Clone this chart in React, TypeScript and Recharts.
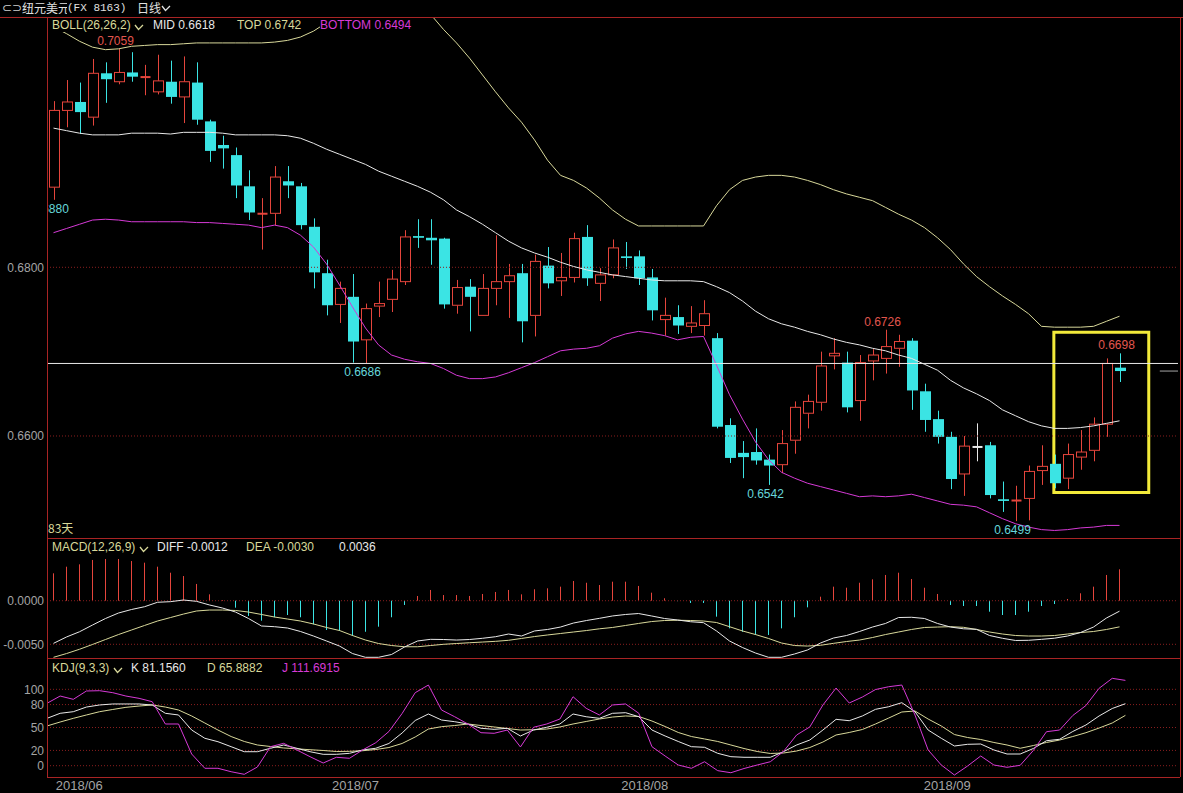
import React from 'react';
import { ComposedChart, Bar, Line, XAxis, YAxis, ReferenceLine, ReferenceArea, ReferenceDot } from 'recharts';

// ---------- data ----------
const opens = [0.6895,0.6986,0.6996,0.6978,0.7030,0.7020,0.7031,0.7025,0.7008,0.7020,
0.7002,0.7019,0.6973,0.6945,0.6933,0.6896,0.6863,0.6864,0.6902,0.6896,
0.6848,0.6793,0.6756,0.6765,0.6714,0.6754,0.6762,0.6783,0.6837,0.6835,
0.6834,0.6755,0.6777,0.6743,0.6775,0.6783,0.6793,0.6743,0.6802,0.6784,
0.6788,0.6836,0.6781,0.6791,0.6813,0.6813,0.6788,0.6738,0.6741,0.6730,
0.6731,0.6716,0.6613,0.6580,0.6581,0.6572,0.6566,0.6595,0.6627,0.6640,
0.6695,0.6687,0.6642,0.6689,0.6692,0.6704,0.6713,0.6653,0.6620,0.6599,
0.6555,0.6587,0.6589,0.6525,0.6523,0.6526,0.6559,0.6567,0.6550,0.6575,
0.6583,0.6614,0.6681];
const highs = [0.6997,0.7022,0.7019,0.7047,0.7043,0.7059,0.7055,0.7040,0.7052,0.7045,
0.7050,0.7043,0.6975,0.6956,0.6942,0.6915,0.6882,0.6920,0.6920,0.6900,
0.6858,0.6809,0.6783,0.6792,0.6757,0.6783,0.6797,0.6844,0.6857,0.6857,
0.6835,0.6785,0.6786,0.6792,0.6838,0.6804,0.6804,0.6815,0.6824,0.6817,
0.6841,0.6850,0.6799,0.6833,0.6830,0.6820,0.6798,0.6764,0.6755,0.6754,
0.6761,0.6722,0.6621,0.6594,0.6609,0.6578,0.6607,0.6641,0.6649,0.6700,
0.6716,0.6700,0.6696,0.6703,0.6726,0.6720,0.6716,0.6662,0.6630,0.6605,
0.6600,0.6615,0.6593,0.6546,0.6541,0.6565,0.6589,0.6578,0.6591,0.6607,
0.6622,0.6692,0.6698];
const lows = [0.6880,0.6966,0.6958,0.6968,0.6995,0.7017,0.7020,0.7004,0.7005,0.6994,
0.6971,0.6969,0.6925,0.6917,0.6882,0.6856,0.6821,0.6850,0.6882,0.6845,
0.6775,0.6743,0.6734,0.6687,0.6686,0.6741,0.6747,0.6779,0.6823,0.6803,
0.6751,0.6745,0.6724,0.6743,0.6755,0.6740,0.6711,0.6718,0.6775,0.6766,
0.6782,0.6778,0.6760,0.6787,0.6798,0.6779,0.6737,0.6719,0.6721,0.6722,
0.6719,0.6609,0.6568,0.6550,0.6566,0.6542,0.6556,0.6579,0.6609,0.6630,
0.6679,0.6628,0.6618,0.6666,0.6674,0.6682,0.6631,0.6605,0.6591,0.6537,
0.6529,0.6570,0.6526,0.6510,0.6499,0.6500,0.6542,0.6538,0.6537,0.6560,
0.6570,0.6599,0.6664];
const closes = [0.6986,0.6996,0.6984,0.7030,0.7023,0.7031,0.7026,0.7026,0.7021,0.7002,
0.7020,0.6975,0.6938,0.6941,0.6897,0.6865,0.6864,0.6907,0.6897,0.6850,
0.6794,0.6755,0.6775,0.6712,0.6751,0.6757,0.6786,0.6836,0.6835,0.6832,
0.6756,0.6776,0.6765,0.6775,0.6783,0.6790,0.6736,0.6807,0.6781,0.6788,
0.6834,0.6787,0.6791,0.6823,0.6811,0.6787,0.6749,0.6743,0.6731,0.6734,
0.6745,0.6611,0.6574,0.6575,0.6571,0.6565,0.6591,0.6634,0.6641,0.6683,
0.6698,0.6634,0.6687,0.6696,0.6706,0.6712,0.6654,0.6619,0.6599,0.6549,
0.6588,0.6587,0.6530,0.6523,0.6524,0.6558,0.6564,0.6544,0.6578,0.6581,
0.6614,0.6686,0.6677];

const bollMid = [0.6965,0.6962,0.6959,0.6957,0.6957,0.6957,0.6959,0.6959,0.6959,0.6958,
0.6960,0.6960,0.6960,0.6959,0.6957,0.6957,0.6957,0.6957,0.6956,0.6953,
0.6947,0.6940,0.6934,0.6928,0.6922,0.6914,0.6908,0.6902,0.6896,0.6889,
0.6880,0.6868,0.6860,0.6851,0.6841,0.6831,0.6823,0.6817,0.6812,0.6806,
0.6801,0.6797,0.6794,0.6791,0.6789,0.6787,0.6785,0.6784,0.6784,0.6784,
0.6783,0.6777,0.6770,0.6760,0.6748,0.6739,0.6733,0.6729,0.6724,0.6720,
0.6715,0.6711,0.6708,0.6704,0.6701,0.6696,0.6692,0.6685,0.6678,0.6666,
0.6657,0.6650,0.6642,0.6631,0.6624,0.6617,0.6612,0.6609,0.6609,0.6610,
0.6612,0.6615,0.6618];
const bollTop = [0.7085,0.7077,0.7068,0.7061,0.7058,0.7059,0.7062,0.7063,0.7064,0.7064,
0.7065,0.7066,0.7066,0.7066,0.7066,0.7066,0.7066,0.7067,0.7069,0.7073,
0.7080,0.7090,0.7100,0.7108,0.7114,0.7118,0.7118,0.7114,0.7108,0.7100,
0.7082,0.7066,0.7048,0.7028,0.7008,0.6989,0.6972,0.6951,0.6927,0.6909,
0.6903,0.6894,0.6882,0.6868,0.6857,0.6849,0.6849,0.6849,0.6849,0.6849,
0.6849,0.6873,0.6892,0.6903,0.6907,0.6909,0.6909,0.6907,0.6903,0.6898,
0.6892,0.6887,0.6883,0.6879,0.6871,0.6863,0.6856,0.6847,0.6835,0.6821,
0.6804,0.6789,0.6777,0.6766,0.6756,0.6745,0.6730,0.6729,0.6729,0.6729,
0.6730,0.6736,0.6742];
const bollBottom = [0.6841,0.6846,0.6851,0.6856,0.6857,0.6856,0.6854,0.6854,0.6854,0.6854,
0.6854,0.6853,0.6853,0.6852,0.6851,0.6850,0.6847,0.6850,0.6847,0.6838,
0.6824,0.6804,0.6779,0.6753,0.6728,0.6708,0.6696,0.6691,0.6688,0.6686,
0.6680,0.6672,0.6668,0.6668,0.6670,0.6675,0.6681,0.6687,0.6694,0.6701,
0.6703,0.6704,0.6707,0.6716,0.6721,0.6724,0.6722,0.6719,0.6714,0.6717,
0.6718,0.6684,0.6649,0.6620,0.6593,0.6572,0.6557,0.6550,0.6544,0.6540,
0.6536,0.6532,0.6528,0.6529,0.6528,0.6529,0.6531,0.6527,0.6523,0.6519,
0.6518,0.6516,0.6509,0.6502,0.6496,0.6492,0.6489,0.6488,0.6489,0.6491,
0.6492,0.6494,0.6494];

const macdHist = [0.00314,0.00390,0.00417,0.00467,0.00478,0.00478,0.00455,0.00436,0.00390,0.00321,
0.00283,0.00192,0.00073,0.00008,-0.00080,-0.00175,-0.00229,-0.00190,-0.00164,-0.00190,
-0.00271,-0.00336,-0.00347,-0.00405,-0.00356,-0.00298,-0.00190,-0.00049,0.00054,0.00123,
0.00065,0.00065,0.00054,0.00077,0.00100,0.00123,0.00073,0.00131,0.00142,0.00161,
0.00226,0.00206,0.00180,0.00218,0.00218,0.00169,0.00092,0.00028,-0.00005,-0.00026,
-0.00026,-0.00183,-0.00317,-0.00356,-0.00393,-0.00393,-0.00317,-0.00190,-0.00076,0.00046,
0.00161,0.00149,0.00206,0.00245,0.00295,0.00321,0.00249,0.00149,0.00077,-0.00049,
-0.00061,-0.00061,-0.00126,-0.00164,-0.00164,-0.00126,-0.00061,-0.00038,0.00019,0.00085,
0.00161,0.00295,0.0036];
const macdDiff = [-0.00489,-0.00416,-0.00356,-0.00279,-0.00204,-0.00141,-0.00101,-0.00069,-0.00018,-0.00011,
0.00008,-0.00007,-0.00049,-0.00084,-0.00130,-0.00204,-0.00290,-0.00298,-0.00313,-0.00353,
-0.00405,-0.00462,-0.00520,-0.00606,-0.00649,-0.00649,-0.00617,-0.00531,-0.00462,-0.00443,
-0.00445,-0.00451,-0.00445,-0.00431,-0.00413,-0.00382,-0.00405,-0.00347,-0.00330,-0.00302,
-0.00256,-0.00227,-0.00202,-0.00175,-0.00158,-0.00147,-0.00175,-0.00204,-0.00221,-0.00241,
-0.00252,-0.00347,-0.00462,-0.00537,-0.00600,-0.00649,-0.00649,-0.00611,-0.00565,-0.00485,
-0.00428,-0.00399,-0.00353,-0.00302,-0.00261,-0.00193,-0.00190,-0.00204,-0.00261,-0.00302,
-0.00322,-0.00328,-0.00399,-0.00431,-0.00456,-0.00454,-0.00443,-0.00430,-0.00405,-0.00365,
-0.00302,-0.00198,-0.0012];
const macdDea = [-0.00649,-0.00606,-0.00557,-0.00502,-0.00445,-0.00388,-0.00336,-0.00284,-0.00233,-0.00193,
-0.00153,-0.00118,-0.00107,-0.00107,-0.00112,-0.00130,-0.00158,-0.00187,-0.00210,-0.00233,
-0.00267,-0.00307,-0.00342,-0.00399,-0.00451,-0.00491,-0.00514,-0.00528,-0.00528,-0.00514,
-0.00500,-0.00491,-0.00482,-0.00474,-0.00466,-0.00454,-0.00433,-0.00411,-0.00393,-0.00376,
-0.00359,-0.00342,-0.00322,-0.00307,-0.00284,-0.00261,-0.00239,-0.00227,-0.00224,-0.00227,
-0.00233,-0.00250,-0.00298,-0.00347,-0.00388,-0.00433,-0.00485,-0.00514,-0.00520,-0.00511,
-0.00489,-0.00468,-0.00451,-0.00422,-0.00388,-0.00359,-0.00330,-0.00307,-0.00302,-0.00298,
-0.00305,-0.00330,-0.00359,-0.00382,-0.00399,-0.00405,-0.00405,-0.00399,-0.00382,-0.00365,
-0.00353,-0.00330,-0.0030];

const kdjK = [62.0,68.6,70.7,76.8,79.5,80.8,80.8,80.8,79.5,68.6,
66.4,46.7,35.9,31.4,24.9,18.3,18.3,22.8,27.1,22.8,
18.3,14.9,14.9,16.2,20.6,22.8,29.1,42.8,59.2,67.7,
59.8,57.6,54.6,49.0,47.6,49.0,38.9,46.7,50.3,54.6,
67.7,64.1,62.0,68.6,69.4,64.1,46.7,38.9,31.7,24.9,
24.1,16.2,11.8,11.0,11.0,11.0,18.3,27.1,33.6,46.7,
60.7,58.9,65.1,73.8,77.2,82.5,70.7,46.7,35.9,25.8,
28.0,28.4,20.6,15.3,15.3,22.5,32.7,34.6,44.8,53.3,
65.1,74.9,81.1560];
const kdjD = [52.0,57.2,62.0,66.4,70.7,73.6,76.4,78.1,79.5,76.8,
72.9,65.1,55.9,46.7,38.2,31.7,27.1,25.1,23.2,22.1,
20.9,19.9,18.6,18.8,19.6,21.2,23.8,29.1,37.6,48.0,
51.1,52.6,54.6,52.6,50.7,48.7,46.7,47.1,48.0,50.7,
54.6,57.9,61.1,63.7,65.1,64.4,58.5,51.3,43.5,38.2,
35.0,31.7,27.1,22.5,18.6,16.0,16.6,19.2,23.8,31.0,
40.2,43.5,47.4,54.6,62.4,70.3,71.6,61.1,52.0,40.8,
36.9,34.3,30.4,27.1,22.8,26.4,30.4,33.6,38.2,43.2,
49.3,55.9,65.8882];
const kdjJ = [81.7,91.2,86.9,97.8,98.2,95.6,91.2,88.2,83.8,54.6,
54.6,15.3,-3.4,-3.4,-7.9,-11.3,-1.7,24.9,29.3,20.6,
11.8,3.5,11.0,9.7,20.6,30.1,44.8,68.3,95.6,105.6,
72.9,64.1,54.6,43.2,42.4,46.7,24.5,50.3,54.6,61.1,
90.3,75.1,66.4,79.5,80.8,68.6,24.9,12.7,0.9,-3.4,
5.2,-6.5,-9.2,-3.7,0.9,5.2,18.6,40.2,50.7,79.5,
101.7,82.1,89.9,99.7,103.4,105.6,66.4,20.6,0.9,-12.2,
-0.4,12.7,0.9,-2.1,0.5,19.9,44.5,46.7,65.7,78.8,
101.3,114.4,111.6915];

const monthTicks = [2, 23, 45, 68];
const monthLabels = ['2018/06', '2018/07', '2018/08', '2018/09'];
const mainTicks = [0.68, 0.66];
const macdTicks = [0, -0.005];
const kdjTicks = [100, 80, 50, 20, 0];
const priceMarks = [
  { i: 0, v: 0.6880, side: 'bottom' },
  { i: 5, v: 0.7059, side: 'top' },
  { i: 24, v: 0.6686, side: 'bottom' },
  { i: 55, v: 0.6542, side: 'bottom' },
  { i: 64, v: 0.6726, side: 'top' },
  { i: 74, v: 0.6499, side: 'bottom' },
  { i: 82, v: 0.6698, side: 'top' },
];
const priceLine = 0.6686;
const lastMarker = { x1: 85.1, x2: 86.5, v: 0.6677 };
const highlightBox = { x1: 76.95, x2: 84.25, y1: 0.6533, y2: 0.6723 };
const PAD_BARS = 4;

// ---------- style / layout ----------
const RED = '#e5453c';
const CYAN = '#3be4e4';
const WHITE = '#e8e8e8';
const PALE = '#d8d89a';
const MAGENTA = '#d63ad6';
const GRID = '#8a1e1e';
const BORDER = '#a82424';
const GREY = '#a4a4a4';
const BOX = '#f2ea3a';
const LBL_RED = '#e2564e';
const LBL_CYAN = '#66d6da';
const SANS = '"Liberation Sans", Arial, sans-serif';

const CHART_W = 1183;
const PLOT_LEFT = 47;
const RIGHT_M = 5;
const PLOT_W = CHART_W - PLOT_LEFT - RIGHT_M;
const MAIN_TOP = 17, MAIN_H = 521;
const MACD_TOP = 538, MACD_H = 120;
const KDJ_TOP = 658, KDJ_H = 119, DATE_H = 16;

const N = opens.length;
const data = Array.from({ length: N + PAD_BARS }, (_, i) =>
  i < N
    ? {
        i,
        o: opens[i], h: highs[i], l: lows[i], c: closes[i],
        mid: bollMid[i], top: bollTop[i], bot: bollBottom[i],
        hist: macdHist[i], diff: macdDiff[i], dea: macdDea[i],
        k: kdjK[i], d: kdjD[i], j: kdjJ[i],
      }
    : { i }
);

const Candle = (props: any) => {
  const { x, y, width, height, payload } = props;
  if (!payload || payload.o == null) return <g />;
  const { o, h, l, c } = payload;
  const top = Math.min(y, y + height);
  const bottom = Math.max(y, y + height);
  const ratio = h - l > 0 ? (bottom - top) / (h - l) : 0;
  const py = (v: number) => top + (h - v) * ratio;
  const cx = Math.floor(x + width / 2) + 0.5;
  const color = c > o ? RED : c < o ? CYAN : WHITE;
  const yA = py(Math.max(o, c));
  const yB = py(Math.min(o, c));
  const bl = cx - 5;
  if (yB - yA < 1.6) {
    const ym = (yA + yB) / 2;
    return (
      <g>
        <line x1={cx} x2={cx} y1={py(h)} y2={py(l)} stroke={color} strokeWidth={1} />
        <rect x={bl} y={ym - 1} width={10} height={2} fill={color} />
      </g>
    );
  }
  if (c > o) {
    return (
      <g>
        <line x1={cx} x2={cx} y1={py(h)} y2={yA} stroke={color} strokeWidth={1} />
        <line x1={cx} x2={cx} y1={yB} y2={py(l)} stroke={color} strokeWidth={1} />
        <rect x={bl} y={yA} width={10} height={yB - yA} fill="#000" stroke={color} strokeWidth={1} />
      </g>
    );
  }
  return (
    <g>
      <line x1={cx} x2={cx} y1={py(h)} y2={py(l)} stroke={color} strokeWidth={1} />
      <rect x={bl - 0.5} y={yA} width={11} height={yB - yA} fill={color} />
    </g>
  );
};

const HistBar = (props: any) => {
  const { x, y, width, height, payload } = props;
  if (!payload || payload.hist == null) return <g />;
  const cx = Math.floor(x + width / 2) + 0.5;
  const y0 = Math.min(y, y + height);
  const y1 = Math.max(y, y + height);
  return <line x1={cx} x2={cx} y1={y0} y2={Math.max(y1, y0 + 0.5)} stroke={payload.hist >= 0 ? RED : CYAN} strokeWidth={1} />;
};

const MarkShape = (side: string) => (p: any) => {
  const { cx, cy } = p;
  const yy = side === 'top' ? cy - 8 : cy + 9;
  return (
    <svg x={PLOT_LEFT} y={0} width={PLOT_W} height={MAIN_H} overflow="hidden">
      <text x={cx - PLOT_LEFT - 3} y={yy} textAnchor="middle" dominantBaseline="central"
        fill={side === 'top' ? LBL_RED : LBL_CYAN} fontSize={12} fontFamily={SANS}>
        {p.value}
      </text>
    </svg>
  );
};

const MonthTick = (props: any) => {
  const { x, y, payload } = props;
  const idx = monthTicks.indexOf(payload.value);
  if (idx < 0) return <g />;
  return (
    <text x={x + 6} y={y + 13} textAnchor="middle" fill={GREY} fontSize={13} fontFamily={SANS}>
      {monthLabels[idx]}
    </text>
  );
};

const Txt = ({ x, y, color, size = 12, font = SANS, bg = '#000', children }: any) => (
  <span style={{ position: 'absolute', left: x, top: y - 7, lineHeight: '14px', fontSize: size, color, fontFamily: font, whiteSpace: 'pre', background: bg }}>
    {children}
  </span>
);

const Chevron = ({ x, y, color }: any) => (
  <svg style={{ position: 'absolute', left: x, top: y }} width={10} height={7}>
    <polyline points="1,1 4.5,5.5 9,1" fill="none" stroke={color} strokeWidth={1.3} />
  </svg>
);

const Hl = ({ x, y, w }: any) => <div style={{ position: 'absolute', left: x, top: y, width: w, height: 1, background: BORDER }} />;
const Vl = ({ x, y, h }: any) => <div style={{ position: 'absolute', left: x, top: y, width: 1, height: h, background: BORDER }} />;

const yTick = { fill: GREY, fontSize: 12, fontFamily: SANS };

export default function App() {
  const last = N - 1;
  return (
    <div style={{ position: 'fixed', left: 0, top: 0, width: 1183, height: 793, background: '#000', overflow: 'hidden', fontFamily: SANS }}>
      {/* main price panel */}
      <div style={{ position: 'absolute', left: 0, top: MAIN_TOP }}>
        <ComposedChart width={CHART_W} height={MAIN_H} data={data} margin={{ top: 0, right: RIGHT_M, bottom: 0, left: 0 }}>
          <XAxis dataKey="i" hide />
          <XAxis xAxisId="num" type="number" dataKey="i" domain={[-0.5, N + PAD_BARS - 0.5]} hide allowDataOverflow />
          <YAxis domain={[0.647907, 0.709674]} allowDataOverflow ticks={mainTicks} interval={0} tickFormatter={(v: number) => v.toFixed(4)}
            width={PLOT_LEFT} tickSize={0} tickMargin={3} axisLine={false} tickLine={false} tick={yTick} />
          {mainTicks.map((t) => (
            <ReferenceLine key={t} y={t} stroke={GRID} strokeDasharray="1 2" />
          ))}
          <Bar dataKey={(d: any) => (d.o == null ? null : [d.l, d.h])} barSize={10} shape={Candle} isAnimationActive={false} />
          <Line dataKey="top" stroke={PALE} strokeWidth={1} dot={false} activeDot={false} isAnimationActive={false} />
          <Line dataKey="mid" stroke={WHITE} strokeWidth={1} dot={false} activeDot={false} isAnimationActive={false} />
          <Line dataKey="bot" stroke={MAGENTA} strokeWidth={1} dot={false} activeDot={false} isAnimationActive={false} />
          <ReferenceLine y={priceLine} stroke={WHITE} strokeWidth={1} />
          <ReferenceLine xAxisId="num" segment={[{ x: lastMarker.x1, y: lastMarker.v }, { x: lastMarker.x2, y: lastMarker.v }]} stroke={GREY} />
          <ReferenceArea xAxisId="num" x1={highlightBox.x1} x2={highlightBox.x2} y1={highlightBox.y1} y2={highlightBox.y2}
            fill="none" fillOpacity={0} stroke={BOX} strokeWidth={3} ifOverflow="visible" />
          {priceMarks.map((m) => (
            <ReferenceDot key={m.i} xAxisId="num" x={m.i} y={m.v} r={1} ifOverflow="visible"
              shape={(p: any) => MarkShape(m.side)({ ...p, value: m.v.toFixed(4) })} />
          ))}
        </ComposedChart>
      </div>

      {/* MACD panel */}
      <div style={{ position: 'absolute', left: 0, top: MACD_TOP }}>
        <ComposedChart width={CHART_W} height={MACD_H} data={data} margin={{ top: 0, right: RIGHT_M, bottom: 0, left: 0 }}>
          <XAxis dataKey="i" hide />
          <YAxis domain={[-0.00657, 0.00719]} allowDataOverflow ticks={macdTicks} interval={0} tickFormatter={(v: number) => v.toFixed(4)}
            width={PLOT_LEFT} tickSize={0} tickMargin={3} axisLine={false} tickLine={false} tick={yTick} />
          {macdTicks.map((t) => (
            <ReferenceLine key={t} y={t} stroke={GRID} strokeDasharray="1 2" />
          ))}
          <Bar dataKey="hist" barSize={1} shape={HistBar} isAnimationActive={false} />
          <Line dataKey="dea" stroke={PALE} strokeWidth={1} dot={false} activeDot={false} isAnimationActive={false} />
          <Line dataKey="diff" stroke={WHITE} strokeWidth={1} dot={false} activeDot={false} isAnimationActive={false} />
        </ComposedChart>
      </div>

      {/* KDJ panel */}
      <div style={{ position: 'absolute', left: 0, top: KDJ_TOP }}>
        <ComposedChart width={CHART_W} height={KDJ_H + DATE_H} data={data} margin={{ top: 0, right: RIGHT_M, bottom: 0, left: 0 }}>
          <XAxis dataKey="i" ticks={monthTicks} interval={0} height={DATE_H} tickSize={0} tickMargin={0}
            axisLine={false} tickLine={false} tick={<MonthTick />} />
          <YAxis domain={[-14.8, 141.0]} allowDataOverflow ticks={kdjTicks} interval={0}
            width={PLOT_LEFT} tickSize={0} tickMargin={3} axisLine={false} tickLine={false} tick={yTick} />
          {kdjTicks.map((t) => (
            <ReferenceLine key={t} y={t} stroke={GRID} strokeDasharray="1 2" />
          ))}
          <Line dataKey="d" stroke={PALE} strokeWidth={1} dot={false} activeDot={false} isAnimationActive={false} />
          <Line dataKey="k" stroke={WHITE} strokeWidth={1} dot={false} activeDot={false} isAnimationActive={false} />
          <Line dataKey="j" stroke={MAGENTA} strokeWidth={1} dot={false} activeDot={false} isAnimationActive={false} />
        </ComposedChart>
      </div>

      {/* frames */}
      <Hl x={0} y={17} w={1183} />
      <Hl x={PLOT_LEFT} y={MACD_TOP} w={1133} />
      <Hl x={PLOT_LEFT} y={KDJ_TOP} w={1133} />
      <Hl x={PLOT_LEFT} y={KDJ_TOP + KDJ_H} w={1133} />
      <Vl x={PLOT_LEFT} y={17} h={KDJ_TOP + KDJ_H - 17} />
      <Vl x={1180} y={17} h={KDJ_TOP + KDJ_H - 17} />

      {/* title */}
      <Txt x={2} y={8} color="#cfcfcf" size={12} font='"DejaVu Sans", sans-serif'>⊂⊃</Txt>
      <Txt x={22} y={8} color="#e0e0e0" size={12} font='"Noto Sans CJK SC", sans-serif'>纽元美元</Txt>
      <Txt x={67} y={8} color="#e0e0e0" size={11} font='"Liberation Mono", monospace'>(FX 8163)</Txt>
      <Txt x={137} y={8} color="#e0e0e0" size={12} font='"Noto Sans CJK SC", sans-serif'>日线</Txt>
      <Chevron x={161} y={5} color="#e0e0e0" />

      {/* BOLL legend */}
      <Txt x={52} y={25} color={PALE}>BOLL(26,26,2)</Txt>
      <Chevron x={134} y={24} color={PALE} />
      <Txt x={153} y={25} color={WHITE}>{`MID ${bollMid[last].toFixed(4)}`}</Txt>
      <Txt x={237} y={25} color={PALE}>{`TOP ${bollTop[last].toFixed(4)}`}</Txt>
      <Txt x={320} y={25} color={MAGENTA}>{`BOTTOM ${bollBottom[last].toFixed(4)}`}</Txt>
      <Txt x={48} y={528} color={PALE} bg="transparent" font='"Noto Sans CJK SC", sans-serif'>{`${N}天`}</Txt>

      {/* MACD legend */}
      <Txt x={52} y={547} color={PALE}>MACD(12,26,9)</Txt>
      <Chevron x={139} y={546} color={PALE} />
      <Txt x={157} y={547} color={WHITE}>{`DIFF ${macdDiff[last].toFixed(4)}`}</Txt>
      <Txt x={246} y={547} color={PALE}>{`DEA ${macdDea[last].toFixed(4)}`}</Txt>
      <Txt x={339} y={547} color={WHITE}>{macdHist[last].toFixed(4)}</Txt>

      {/* KDJ legend */}
      <Txt x={52} y={668} color={PALE}>KDJ(9,3,3)</Txt>
      <Chevron x={113} y={667} color={PALE} />
      <Txt x={131} y={668} color={WHITE}>{`K ${kdjK[last].toFixed(4)}`}</Txt>
      <Txt x={207} y={668} color={PALE}>{`D ${kdjD[last].toFixed(4)}`}</Txt>
      <Txt x={282} y={668} color={MAGENTA}>{`J ${kdjJ[last].toFixed(4)}`}</Txt>
    </div>
  );
}
